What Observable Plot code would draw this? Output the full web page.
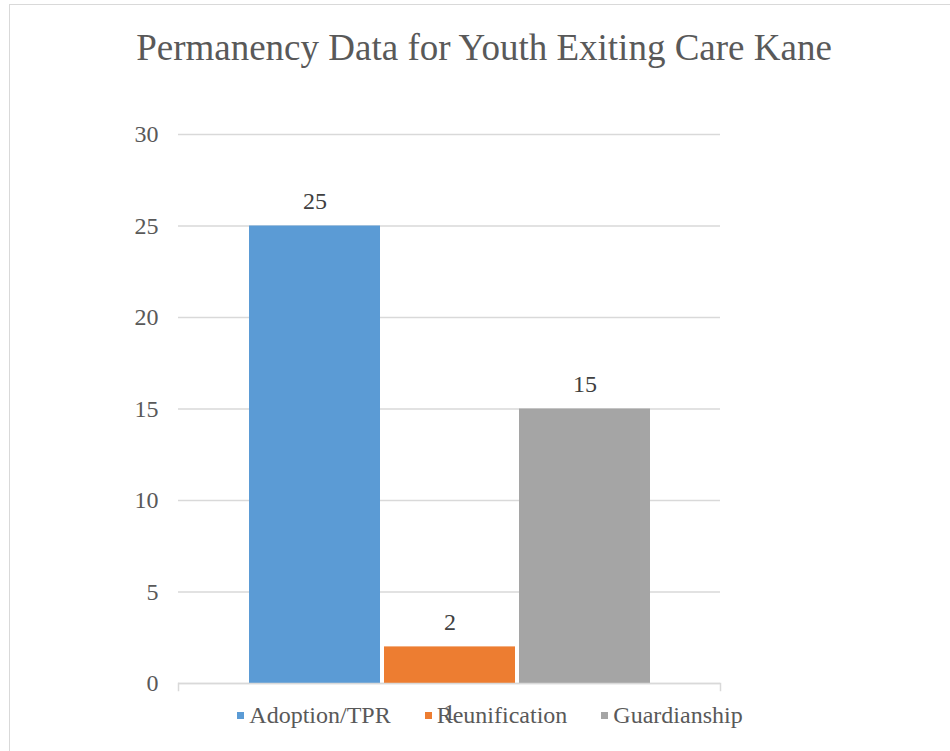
<!DOCTYPE html>
<html>
<head>
<meta charset="utf-8">
<script src="https://cdn.jsdelivr.net/npm/d3@7"></script>
<script src="https://cdn.jsdelivr.net/npm/@observablehq/plot@0.6"></script>
<style>
html, body { margin: 0; padding: 0; background: #fff; width: 950px; height: 751px; overflow: hidden; position: relative;
  font-family: "Liberation Serif", "Times New Roman", serif; }
#border { position: absolute; left: 9px; top: 4px; width: 1000px; height: 1000px; border: 1.5px solid #d9d9d9; box-sizing: border-box; }
#title { position: absolute; left: 10px; width: 948px; top: 29px; text-align: center; font-size: 37px; line-height: 37px; color: #595959; white-space: nowrap; }
#chart { position: absolute; left: 0; top: 100px; }
#legend { position: absolute; left: 0; width: 980px; top: 702px; }
#legend > div { display: flex !important; justify-content: center; align-items: center; flex-wrap: nowrap !important;
  font-family: "Liberation Serif", "Times New Roman", serif !important; font-size: 24px !important; color: #595959 !important;
  margin: 0 !important; min-height: 0 !important; }
#legend span { display: inline-flex; align-items: center; margin-right: 34px !important; }
#legend span:last-of-type { margin-right: 0 !important; }
#legend svg { margin-right: 5px !important; }
</style>
</head>
<body>
<div id="border"></div>
<div id="title"></div>
<div id="chart"></div>
<div id="legend"></div>
<script>
const titleText = "Permanency Data for Youth Exiting Care Kane";
const category = "1";
const series = ["Adoption/TPR", "Reunification", "Guardianship"];
const values = [25, 2, 15];
const colors = ["#5B9BD5", "#ED7D31", "#A5A5A5"];
const yTicks = [0, 5, 10, 15, 20, 25, 30];

document.getElementById("title").textContent = titleText;

const data = series.map((s, i) => ({category, series: s, value: values[i]}));

const chart = Plot.plot({
  width: 950,
  height: 620,
  marginLeft: 178,
  marginRight: 230,
  marginTop: 34,
  marginBottom: 30,
  style: {fontFamily: "Liberation Serif, Times New Roman, serif", fontSize: "24px", color: "#595959", background: "transparent", overflow: "visible"},
  fx: {domain: [category], padding: 0, label: null, tickSize: 0, tickPadding: 12},
  x: {domain: series, paddingInner: 0.03, paddingOuter: 0.51, axis: null},
  y: {domain: [0, 30], ticks: yTicks, insetBottom: 7, label: null, tickSize: 0, tickPadding: 20},
  color: {domain: series, range: colors},
  marks: [
    Plot.ruleY(yTicks, {stroke: "#d9d9d9", strokeWidth: 1.5}),
    Plot.frame({anchor: "left", insetTop: 549, stroke: "#d9d9d9", strokeWidth: 1.5}),
    Plot.frame({anchor: "right", insetTop: 549, stroke: "#d9d9d9", strokeWidth: 1.5}),
    Plot.barY(data, {fx: "category", x: "series", y: "value", fill: "series"}),
    Plot.ruleY([0], {stroke: "#d9d9d9", strokeWidth: 1.5}),
    Plot.text(data, {fx: "category", x: "series", y: "value", text: d => String(d.value), dy: -24.5, lineAnchor: "middle", fill: "#404040", fontSize: 24})
  ]
});
document.getElementById("chart").appendChild(chart);

const legend = Plot.legend({
  color: {type: "ordinal", domain: series, range: colors},
  legend: "swatches",
  swatchSize: 7,
  className: "lg"
});
document.getElementById("legend").appendChild(legend);
</script>
</body>
</html>
